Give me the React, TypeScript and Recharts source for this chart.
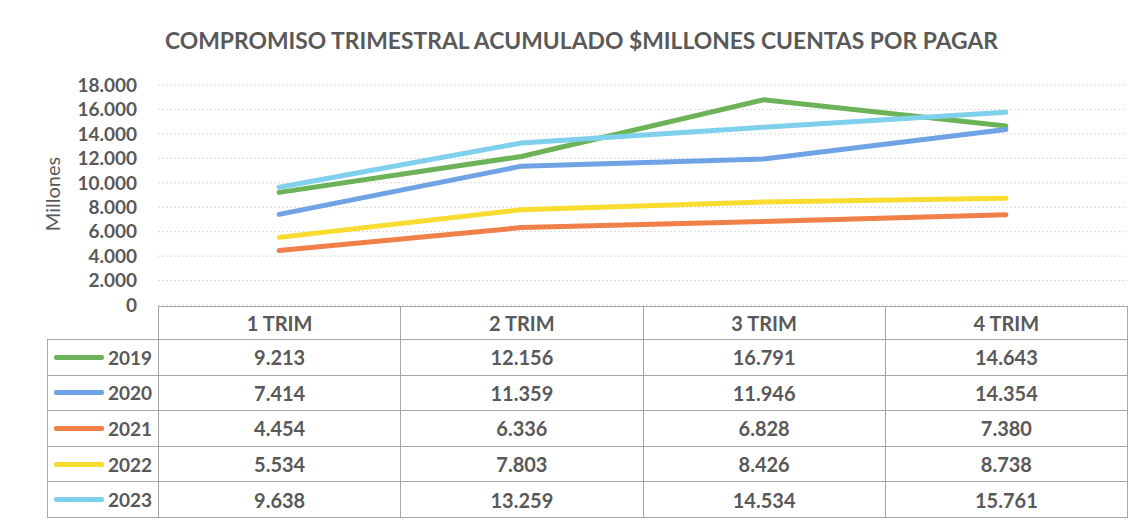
import { LineChart, Line, XAxis, YAxis, CartesianGrid } from 'recharts';

const quarters = ['1 TRIM', '2 TRIM', '3 TRIM', '4 TRIM'];
const years = ['2019', '2020', '2021', '2022', '2023'];

const values2019 = [9213, 12156, 16791, 14643];
const values2020 = [7414, 11359, 11946, 14354];
const values2021 = [4454, 6336, 6828, 7380];
const values2022 = [5534, 7803, 8426, 8738];
const values2023 = [9638, 13259, 14534, 15761];

const yTicks = [0, 2000, 4000, 6000, 8000, 10000, 12000, 14000, 16000, 18000];

const seriesValues = [values2019, values2020, values2021, values2022, values2023];
const colors = ['#6bb356', '#6fa3e6', '#f07f4a', '#f8dc30', '#7ed0ec'];

const data = quarters.map((q, i) => {
  const row: Record<string, string | number> = { quarter: q };
  years.forEach((y, s) => {
    row[y] = seriesValues[s][i];
  });
  return row;
});

const fmt = (n: number) => String(n).replace(/\B(?=(\d{3})+(?!\d))/g, '.');

const TEXT = '#595959';
const BORDER = '#a6a6a6';
const FONT = 'Lato, "Open Sans", sans-serif';

const plotLeft = 158;
const plotRight = 1127;
const colW = (plotRight - plotLeft) / quarters.length;

export default function App() {
  const cell = {
    border: `1px solid ${BORDER}`,
    textAlign: 'center' as const,
    fontWeight: 700,
    fontSize: 20,
    color: TEXT,
    padding: 0,
  };

  return (
    <div
      style={{
        position: 'relative',
        width: 1146,
        height: 529,
        margin: -8,
        background: '#fff',
        fontFamily: FONT,
        overflow: 'hidden',
      }}
    >
      <div
        style={{
          position: 'absolute',
          left: 2,
          top: 182,
          width: 100,
          height: 24,
          lineHeight: '24px',
          textAlign: 'center',
          transform: 'rotate(-90deg)',
          color: TEXT,
          fontSize: 20,
        }}
      >
        Millones
      </div>
      <LineChart
        width={1146}
        height={529}
        data={data}
        margin={{ top: 85, right: 1146 - plotRight, bottom: 224, left: 0 }}
        style={{ position: 'absolute', left: 0, top: 0 }}
      >
        <CartesianGrid vertical={false} stroke="#dadada" strokeDasharray="2 2" />
        <XAxis dataKey="quarter" scale="band" hide />
        <YAxis
          width={plotLeft}
          domain={[0, 18000]}
          ticks={yTicks}
          interval={0}
          axisLine={false}
          tickLine={false}
          tickSize={0}
          tickMargin={21}
          tickFormatter={fmt}
          tick={{ fill: TEXT, fontSize: 19, fontWeight: 700, fontFamily: FONT }}
        />
        {years.map((y, s) => (
          <Line
            key={y}
            dataKey={y}
            type="linear"
            stroke={colors[s]}
            strokeWidth={5}
            strokeLinecap="round"
            dot={false}
            isAnimationActive={false}
          />
        ))}
      </LineChart>
      <table
        style={{
          position: 'absolute',
          left: 47,
          top: 306,
          width: plotRight - 47,
          borderCollapse: 'collapse',
          tableLayout: 'fixed',
          fontFamily: FONT,
        }}
      >
        <colgroup>
          <col style={{ width: plotLeft - 47 }} />
          {quarters.map((q) => (
            <col key={q} style={{ width: colW }} />
          ))}
        </colgroup>
        <tbody>
          <tr style={{ height: 33 }}>
            <td style={{ padding: 0, border: 'none' }} />
            {quarters.map((q) => (
              <td key={q} style={cell}>
                {q}
              </td>
            ))}
          </tr>
          {years.map((y, s) => (
            <tr key={y} style={{ height: 35.6 }}>
              <td style={{ ...cell, textAlign: 'left' }}>
                <div style={{ display: 'flex', alignItems: 'center', paddingLeft: 6 }}>
                  <span
                    style={{
                      display: 'inline-block',
                      width: 50,
                      height: 5,
                      borderRadius: 2,
                      background: colors[s],
                      marginRight: 4,
                    }}
                  />
                  <span style={{ fontSize: 19 }}>{y}</span>
                </div>
              </td>
              {seriesValues[s].map((v, i) => (
                <td key={i} style={cell}>
                  {fmt(v)}
                </td>
              ))}
            </tr>
          ))}
        </tbody>
      </table>
      {/* title + outer frame */}
      <svg
        width={1146}
        height={529}
        style={{ position: 'absolute', left: 0, top: 0, pointerEvents: 'none', zIndex: 5 }}
      >
        <rect x={6.5} y={5.5} width={1133} height={520} fill="none" stroke="#666" strokeWidth={1.5} />
        <text
          x={581.5}
          y={49}
          textAnchor="middle"
          textLength={833}
          lengthAdjust="spacingAndGlyphs"
          fill={TEXT}
          fontSize={23}
          fontWeight={700}
          fontFamily={FONT}
        >
          COMPROMISO TRIMESTRAL ACUMULADO $MILLONES CUENTAS POR PAGAR
        </text>
      </svg>
    </div>
  );
}
